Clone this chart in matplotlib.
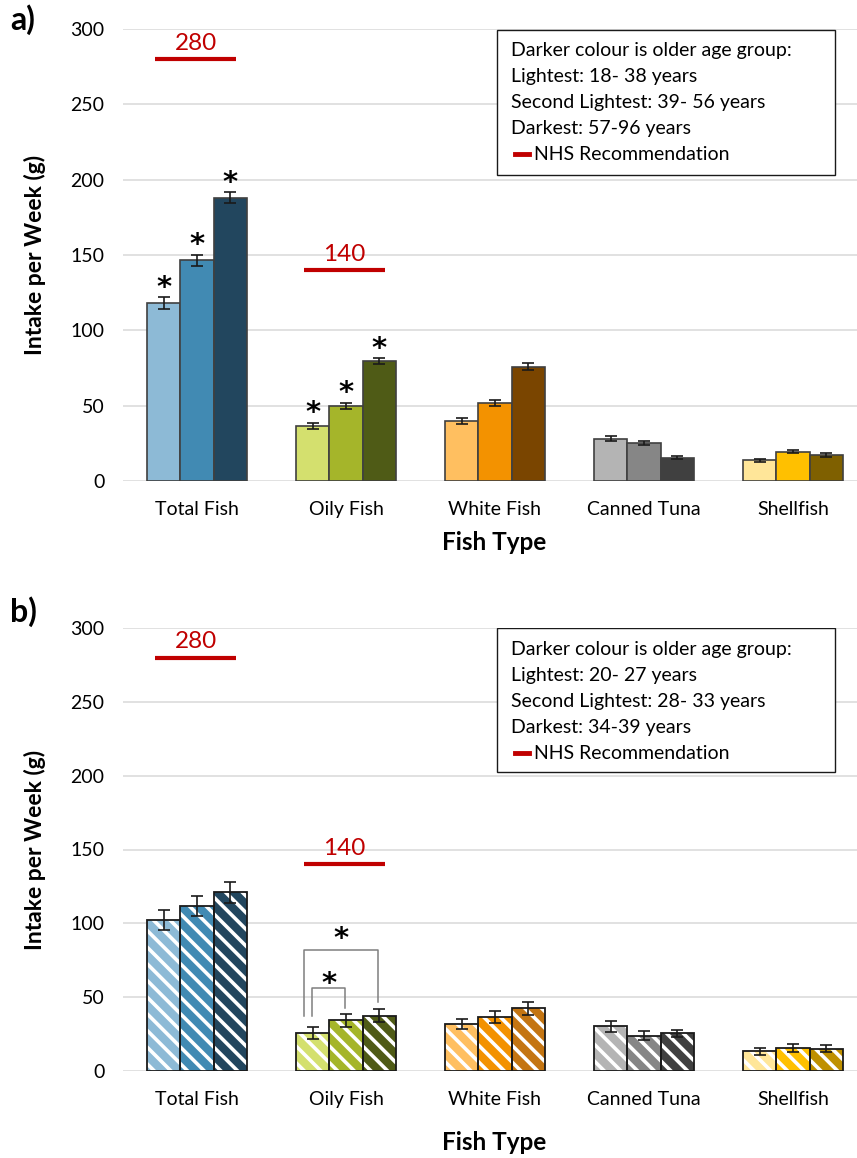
import matplotlib
matplotlib.use("Agg")
import matplotlib.pyplot as plt
import numpy as np
from matplotlib.patches import Rectangle
from matplotlib.lines import Line2D

plt.rcParams['font.family'] = ['Lato', 'DejaVu Sans']
plt.rcParams['hatch.linewidth'] = 2.6

categories = ["Total Fish", "Oily Fish", "White Fish", "Canned Tuna", "Shellfish"]

# Panel a values (light, mid, dark)
a_light = [118, 36.5, 39.6, 28.1, 13.7]
a_mid = [146.5, 49.8, 51.8, 25.2, 19.5]
a_dark = [188, 79.4, 75.9, 15.5, 17.5]
a_light_err = [3.8, 2.2, 1.9, 1.6, 0.9]
a_mid_err = [3.7, 2.3, 2.2, 1.3, 1.1]
a_dark_err = [3.8, 2.0, 2.2, 1.0, 1.3]

# Panel b values
b_light = [102, 25.7, 31.8, 30.2, 13.3]
b_mid = [111.7, 34.5, 36.3, 24.0, 15.6]
b_dark = [121, 37.5, 42.4, 25.5, 15.1]
b_light_err = [6.8, 3.8, 3.6, 3.5, 2.3]
b_mid_err = [6.8, 4.4, 4.0, 2.8, 2.5]
b_dark_err = [7.3, 4.3, 4.3, 2.6, 2.5]

colors_a = [
    ["#8DBAD6", "#418AB3", "#22465E"],
    ["#D4E06E", "#A5B52A", "#4F5B16"],
    ["#FFBF60", "#F39200", "#7A4500"],
    ["#B4B4B4", "#868686", "#404040"],
    ["#FFE699", "#FFC000", "#7F6000"],
]
colors_b = [
    ["#8DBAD6", "#418AB3", "#22465E"],
    ["#D4E06E", "#A5B52A", "#4F5B16"],
    ["#FFBF60", "#F39200", "#C47512"],
    ["#B4B4B4", "#868686", "#404040"],
    ["#FFE699", "#FFC000", "#BF9000"],
]

nhs_values = [280, 140]
nhs_labels = ["280", "140"]

legend_a = ["Darker colour is older age group:", "Lightest: 18- 38 years",
            "Second Lightest: 39- 56 years", "Darkest: 57-96 years"]
legend_b = ["Darker colour is older age group:", "Lightest: 20- 27 years",
            "Second Lightest: 28- 33 years", "Darkest: 34-39 years"]

W, H = 857, 1158
fig = plt.figure(figsize=(W / 100, H / 100), dpi=100)

ax_left = 122.5 / W
ax_w = 745 / W
ax_a = fig.add_axes([ax_left, 1 - 481 / H, ax_w, 452 / H])
ax_b = fig.add_axes([ax_left, 1 - 1071 / H, ax_w, 443 / H])

bw = 0.224
x = np.arange(len(categories))
offsets = [-bw, 0, bw]
red = "#C00000"
star_kw = dict(fontsize=21, fontweight='bold', family='DejaVu Sans',
               ha='center', va='baseline', zorder=6)


def draw_panel(ax, vals, errs, colors, hatched, legend_lines):
    ax.set_xlim(-0.5, 4.5)
    ax.set_ylim(0, 300)
    ax.set_yticks(np.arange(0, 301, 50))
    ax.yaxis.grid(True, color="#D9D9D9", linewidth=1.1)
    ax.set_axisbelow(True)
    for s in ax.spines.values():
        s.set_visible(False)
    ax.tick_params(axis='both', length=0, labelsize=14, colors="#000000")
    ax.tick_params(axis='y', pad=13)
    ax.tick_params(axis='x', pad=14.5)
    ax.set_xticks(x)
    ax.set_xticklabels(categories)
    for k in range(3):
        for i in range(len(categories)):
            xi = x[i] + offsets[k]
            c = colors[i][k]
            if hatched:
                ax.bar(xi, vals[k][i], width=bw, color=c, edgecolor="white",
                       linewidth=0, hatch="\\\\", zorder=2)
                ax.bar(xi, vals[k][i], width=bw, fill=False, edgecolor="#1a1a1a",
                       linewidth=1.3, zorder=3)
            else:
                ax.bar(xi, vals[k][i], width=bw, color=c, edgecolor="#404040",
                       linewidth=1.2, zorder=2)
            ax.errorbar(xi, vals[k][i], yerr=errs[k][i], fmt='none',
                        ecolor="#1a1a1a", elinewidth=1.2, capsize=4,
                        capthick=1.2, zorder=4)
    # NHS recommendations
    for i, (v, lab) in enumerate(zip(nhs_values, nhs_labels)):
        ax.plot([x[i] - 0.28, x[i] + 0.26], [v, v], color=red, linewidth=3,
                solid_capstyle='butt', zorder=3)
        ax.text(x[i] - 0.01, v + 3.5, lab, color=red, fontsize=17.5,
                ha='center', va='bottom')
    # legend box
    ax.add_patch(Rectangle((0.503, 0.678 if not hatched else 0.676), 0.453,
                           0.32 if not hatched else 0.323,
                           transform=ax.transAxes, facecolor="white",
                           edgecolor="#1a1a1a", linewidth=1.0, zorder=5))
    top = 0.953 if not hatched else 0.951
    step = 0.0575 if not hatched else 0.0585
    for j, line in enumerate(legend_lines):
        ax.text(0.521, top - j * step, line, transform=ax.transAxes,
                fontsize=14, va='center', ha='left', zorder=6)
    yj = top - 4 * step
    ax.add_line(Line2D([0.527, 0.546], [yj, yj], transform=ax.transAxes,
                       color=red, linewidth=3.5, zorder=6))
    ax.text(0.553, yj, "NHS Recommendation", transform=ax.transAxes,
            fontsize=14, va='center', ha='left', zorder=6)


draw_panel(ax_a, [a_light, a_mid, a_dark], [a_light_err, a_mid_err, a_dark_err],
           colors_a, False, legend_a)
draw_panel(ax_b, [b_light, b_mid, b_dark], [b_light_err, b_mid_err, b_dark_err],
           colors_b, True, legend_b)

# significance asterisks panel a (Total Fish and Oily Fish, all groups)
a_vals = [a_light, a_mid, a_dark]
a_errs = [a_light_err, a_mid_err, a_dark_err]
for i in [0, 1]:
    for k in range(3):
        ax_a.text(x[i] + offsets[k], a_vals[k][i] + a_errs[k][i] + 0.8, "*", **star_kw)

# significance brackets panel b (Oily Fish)
gc = "#7F7F7F"
xl = x[1] + offsets[0] - 0.055
xr = x[1] + offsets[2] - 0.01
ax_b.plot([xl, xl, xr, xr], [37, 82, 82, 47], color=gc, linewidth=1.1, zorder=5)
xl2 = x[1] + offsets[0] - 0.002
xr2 = x[1] + offsets[1] - 0.005
ax_b.plot([xl2, xl2, xr2, xr2], [37, 56, 56, 43], color=gc, linewidth=1.1, zorder=5)
ax_b.text((xl + xr) / 2, 84, "*", **star_kw)
ax_b.text((xl2 + xr2) / 2, 53.5, "*", **star_kw)

# axis titles
for ax_y, xt_y in [((481 + 29) / 2, 543), ((1071 + 628) / 2, 1143)]:
    fig.text(35 / W, 1 - ax_y / H, "Intake per Week (g)", rotation=90,
             fontsize=16.5, fontweight='bold', ha='center', va='center')
    fig.text(494 / W, 1 - xt_y / H, "Fish Type", fontsize=17.5,
             fontweight='bold', ha='center', va='center')

fig.text(10 / W, 1 - 20 / H, "a)", fontsize=23, fontweight='bold', ha='left', va='center')
fig.text(10 / W, 1 - 612 / H, "b)", fontsize=23, fontweight='bold', ha='left', va='center')

fig.savefig("out.png", dpi=100, facecolor="white")
